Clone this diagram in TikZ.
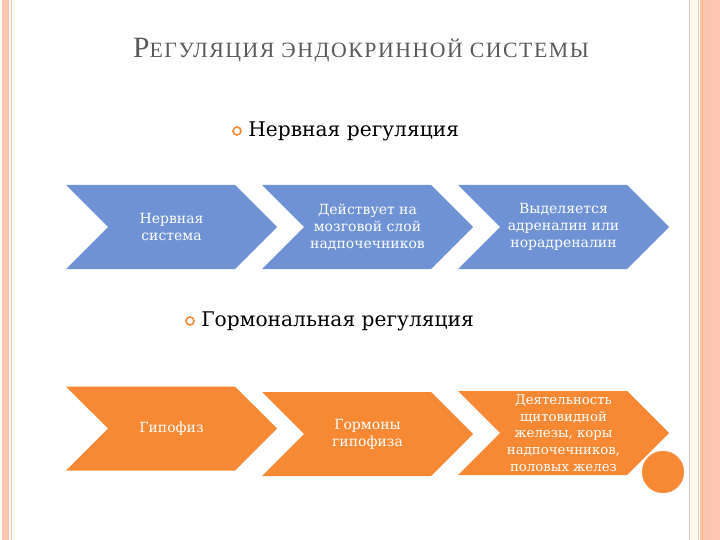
\documentclass[tikz,border=0pt]{standalone}
\usepackage{fontspec}
\setmainfont{Liberation Serif}
\newfontfamily\chevfont{DejaVu Serif}
\newfontfamily\headfont{DejaVu Serif}
\newfontfamily\titlefont[LetterSpace=7]{Liberation Serif}
\usepackage{tikz}
\usetikzlibrary{shapes.symbols, positioning}
\definecolor{chevblue}{RGB}{111,146,212}
\definecolor{chevorange}{RGB}{247,136,52}
\definecolor{titlegray}{RGB}{89,89,89}
\definecolor{edgesalmon}{RGB}{252,198,176}
\definecolor{edgetan}{RGB}{232,200,180}
\definecolor{edgecream}{RGB}{255,248,232}
\tikzset{
  chevron/.style={
    signal, signal from=west, signal to=east, signal pointer angle=90,
    minimum width=211pt, minimum height=84pt, inner sep=0pt,
    text=white, align=center,
    font=\chevfont\fontsize{14}{17}\selectfont
  },
  bluechev/.style={chevron, fill=chevblue},
  orangechev/.style={chevron, fill=chevorange},
  bulletring/.style={
    circle, draw=chevorange, line width=1.6pt,
    minimum size=8pt, inner sep=0pt
  },
  heading/.style={font=\headfont\fontsize{20.2}{24}\selectfont, anchor=west}
}

\begin{document}
\begin{tikzpicture}[x=1pt, y=-1pt]
  \useasboundingbox (0,0) rectangle (720,540);

  % Page edges
  \fill[edgesalmon] (2,0) rectangle (9,540);
  \draw[edgetan, line width=0.8pt] (11,0) -- (11,540);
  \draw[edgecream, line width=0.8pt] (14,0) -- (14,540);
  \draw[edgetan, line width=1pt] (689,0) -- (689,540);
  \fill[edgecream] (691,0) rectangle (697,540);
  \draw[edgetan, line width=1pt] (698,0) -- (698,540);
  \fill[edgesalmon] (700,0) rectangle (720,540);
  \draw[chevorange!60, line width=0.8pt] (702,0) -- (702,540);
  \draw[edgetan, line width=0.6pt] (708,0) -- (708,540);

  % Title
  \node[text=titlegray] (title) at (361,50)
    {\titlefont\fontsize{29.5}{32}\selectfont Р\fontsize{21.8}{32}\selectfont ЕГУЛЯЦИЯ ЭНДОКРИННОЙ СИСТЕМЫ};

  % Nervous row
  \node[bulletring] (b1) at (237,131) {};
  \node[heading, right=3pt of b1] (nervh) {Нервная регуляция};
  \node[bluechev] (ns)  at (171.5,227) {Нервная\\система};
  \node[bluechev] (act) at (367.5,227) {Действует на\\мозговой слой\\надпочечников};
  \node[bluechev] (adr) at (563.5,227) {Выделяется\\адреналин или\\норадреналин};

  % Hormonal row
  \node[bulletring] (b2) at (190,321) {};
  \node[heading, right=3pt of b2] (hormh) {Гормональная регуляция};
  \node[orangechev] (hyp)  at (171.5,428.5) {Гипофиз};
  \node[orangechev] (horm) at (367.5,434) {Гормоны\\гипофиза};
  \node[orangechev, font=\chevfont\fontsize{13.3}{16.7}\selectfont] (glands) at (563.5,433)
    {Деятельность\\щитовидной\\железы, коры\\надпочечников,\\половых желез};

  % Corner dot
  \node[circle, fill=chevorange, draw=chevorange!70, minimum size=42pt, inner sep=0pt] (dot) at (663,472) {};
\end{tikzpicture}
\end{document}
